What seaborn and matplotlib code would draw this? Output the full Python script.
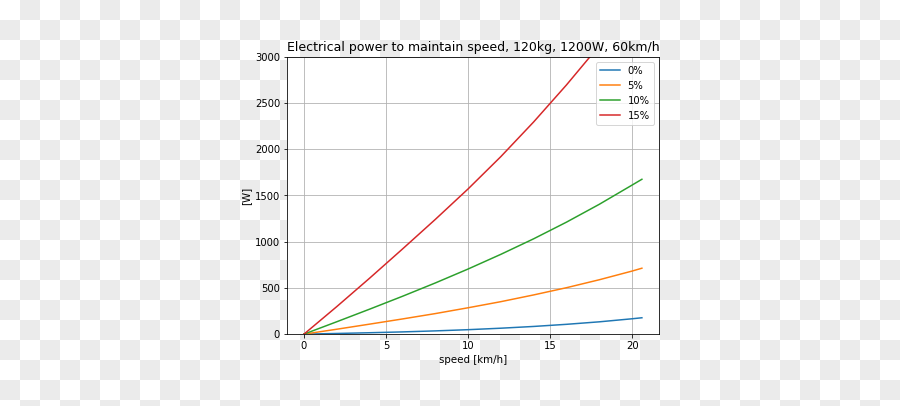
import numpy as np
import pandas as pd
import matplotlib
matplotlib.use("Agg")
import matplotlib.pyplot as plt
import seaborn as sns

# speed [km/h] and electrical power [W], per grade
speed = [0, 2, 4, 6, 8, 10, 12, 14, 16, 18, 20, 20.6]
grades = ["0%", "5%", "10%", "15%"]
power_0 = [0, 7, 15, 24, 35, 48, 64, 83, 106, 133, 166, 177]
power_5 = [0, 53, 108, 164, 222, 285, 351, 424, 502, 588, 682, 713]
power_10 = [0, 134, 270, 409, 553, 704, 863, 1031, 1211, 1404, 1612, 1675]
power_15 = [0, 298, 605, 920, 1240, 1570, 1920, 2295, 2695, 3120]

rows = []
for g, vals in zip(grades, [power_0, power_5, power_10, power_15]):
    for v, p in zip(speed, vals):
        rows.append({"speed": v, "power": p, "grade": g})
df = pd.DataFrame(rows)

fig = plt.figure(figsize=(12.5, 5.64), dpi=72)

# transparent-background checkerboard as seen in the reference
h, w = 406, 900
r, c = np.indices((h, w))
board = np.where(((r // 20) + (c // 20)) % 2 == 1, 0.925, 1.0)
fig.figimage(np.dstack([board] * 3), xo=0, yo=0, origin="upper", zorder=-10)

ax = fig.add_axes([0.319, 0.177, 0.413, 0.683])
ax.set_zorder(1)
ax.set_facecolor("white")
sns.lineplot(data=df, x="speed", y="power", hue="grade", hue_order=grades,
             palette=["#1f77b4", "#ff7f0e", "#2ca02c", "#d62728"],
             linewidth=1.5, ax=ax)
ax.set_ylim(0, 3000)
ax.grid(True, color="#b0b0b0", linewidth=0.8)
ax.set_axisbelow(True)
ax.set_xlabel("speed [km/h]", fontsize=10.2)
ax.set_ylabel("[W]", fontsize=10.2)
ax.set_title("Electrical power to maintain speed, 120kg, 1200W, 60km/h", fontsize=12.5)
ax.legend(loc="upper right", title=None)

fig.savefig("out.png", dpi=72)
